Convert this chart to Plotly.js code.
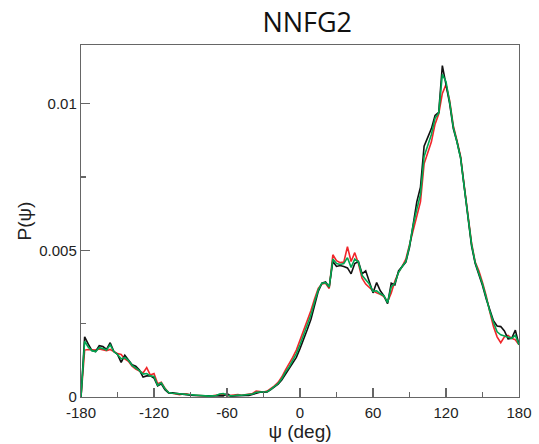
<!DOCTYPE html>
<html>
<head>
<meta charset="utf-8">
<script src="https://cdn.plot.ly/plotly-3.0.1.min.js"></script>
<style>html,body{margin:0;padding:0;background:#fff;}#plot{width:539px;height:444px;}</style>
</head>
<body>
<div id="plot"></div>
<script>
// psi angle bins (deg)
const psi = [-180,-177,-174,-171,-168,-165,-162,-159,-156,-153,-150,-147,-144,-141,-138,-135,-132,-129,-126,-123,-120,-117,-114,-111,-108,-105,-102,-99,-96,-93,-90,-87,-84,-81,-78,-75,-72,-69,-66,-63,-60,-57,-54,-51,-48,-45,-42,-39,-36,-33,-30,-27,-24,-21,-18,-15,-12,-9,-6,-3,0,3,6,9,12,15,18,21,24,27,30,33,36,39,42,45,48,51,54,57,60,63,66,69,72,75,78,81,84,87,90,93,96,99,102,105,108,111,114,117,120,123,126,129,132,135,138,141,144,147,150,153,156,159,162,165,168,171,174,177,180];

const blackP = [0.0,0.00205,0.00180,0.00158,0.00155,0.00175,0.00172,0.00162,0.00185,0.00155,0.00145,0.00118,0.00142,0.00125,0.00110,0.00105,0.00092,0.00068,0.00072,0.00072,0.00065,0.00038,0.00045,0.00025,0.00014,0.00014,0.00012,0.00010,0.00008,0.00007,0.00006,0.00005,0.00005,0.00003,0.00003,0.00003,0.00003,0.00004,0.00005,0.00004,0.00012,0.00003,0.00004,0.00005,0.00005,0.00005,0.00005,0.00008,0.00012,0.00016,0.00016,0.00017,0.00025,0.00033,0.00044,0.00058,0.00078,0.00095,0.00115,0.00135,0.00165,0.00195,0.00230,0.00265,0.00315,0.00360,0.00388,0.00392,0.00375,0.00462,0.00445,0.00448,0.00445,0.00440,0.00420,0.00455,0.00462,0.00420,0.00430,0.00395,0.00355,0.00390,0.00362,0.00345,0.00318,0.00388,0.00382,0.00430,0.00445,0.00460,0.00510,0.00590,0.00665,0.00715,0.00855,0.00885,0.00915,0.00960,0.00970,0.01130,0.01070,0.01000,0.00915,0.00870,0.00815,0.00715,0.00615,0.00515,0.00455,0.00420,0.00380,0.00335,0.00295,0.00260,0.00242,0.00240,0.00225,0.00198,0.00200,0.00228,0.00178];

const redP = [0.0,0.00160,0.00162,0.00160,0.00160,0.00164,0.00162,0.00158,0.00162,0.00155,0.00148,0.00145,0.00130,0.00122,0.00105,0.00095,0.00088,0.00082,0.00100,0.00075,0.00080,0.00045,0.00050,0.00030,0.00015,0.00013,0.00012,0.00008,0.00010,0.00011,0.00007,0.00006,0.00004,0.00003,0.00002,0.00003,0.00004,0.00006,0.00008,0.00010,0.00004,0.00005,0.00006,0.00008,0.00006,0.00008,0.00009,0.00012,0.00020,0.00018,0.00017,0.00020,0.00028,0.00038,0.00050,0.00068,0.00092,0.00112,0.00135,0.00160,0.00192,0.00225,0.00260,0.00295,0.00335,0.00370,0.00385,0.00388,0.00370,0.00485,0.00465,0.00458,0.00460,0.00512,0.00462,0.00492,0.00455,0.00405,0.00385,0.00372,0.00362,0.00355,0.00350,0.00342,0.00325,0.00355,0.00395,0.00425,0.00445,0.00470,0.00520,0.00570,0.00615,0.00665,0.00795,0.00830,0.00870,0.00930,0.00965,0.01035,0.01065,0.01010,0.00925,0.00875,0.00820,0.00720,0.00625,0.00525,0.00460,0.00430,0.00390,0.00345,0.00290,0.00240,0.00205,0.00185,0.00205,0.00210,0.00200,0.00195,0.00178];

const greenP = [0.0,0.00190,0.00170,0.00158,0.00155,0.00168,0.00165,0.00160,0.00178,0.00155,0.00145,0.00130,0.00135,0.00125,0.00108,0.00100,0.00090,0.00078,0.00080,0.00072,0.00070,0.00040,0.00048,0.00028,0.00015,0.00013,0.00012,0.00009,0.00008,0.00007,0.00006,0.00005,0.00004,0.00003,0.00002,0.00003,0.00004,0.00005,0.00010,0.00012,0.00006,0.00004,0.00005,0.00007,0.00006,0.00007,0.00007,0.00010,0.00016,0.00017,0.00017,0.00018,0.00026,0.00035,0.00046,0.00062,0.00085,0.00102,0.00125,0.00148,0.00178,0.00210,0.00245,0.00280,0.00325,0.00365,0.00388,0.00390,0.00375,0.00470,0.00455,0.00452,0.00455,0.00475,0.00442,0.00470,0.00460,0.00415,0.00400,0.00385,0.00360,0.00362,0.00352,0.00345,0.00322,0.00375,0.00388,0.00425,0.00445,0.00462,0.00515,0.00585,0.00640,0.00690,0.00820,0.00855,0.00895,0.00950,0.00968,0.01100,0.01075,0.01005,0.00920,0.00870,0.00815,0.00715,0.00620,0.00520,0.00458,0.00425,0.00385,0.00340,0.00292,0.00255,0.00222,0.00212,0.00208,0.00205,0.00200,0.00210,0.00178];

const xTickVals = [-180,-120,-60,0,60,120,180];
const xTickText = ["-180","-120","-60","0","60","120","180"];
const yTickVals = [0,0.005,0.01];
const yTickText = ["0","0.005","0.01"];

const lw = 1.6;
const traces = [
  {x: psi, y: redP, type: 'scatter', mode: 'lines', line: {color: '#f0262a', width: lw}, hoverinfo: 'skip'},
  {x: psi, y: blackP, type: 'scatter', mode: 'lines', line: {color: '#111111', width: lw}, hoverinfo: 'skip'},
  {x: psi, y: greenP, type: 'scatter', mode: 'lines', line: {color: '#00a651', width: lw}, hoverinfo: 'skip'}
];

const axisCommon = {
  showline: true, mirror: true, linecolor: '#666666', linewidth: 1.2,
  showgrid: false, zeroline: false,
  ticks: 'inside', ticklen: 9, tickwidth: 1.2, tickcolor: '#666666',
  tickfont: {family: 'Liberation Sans, Arial, sans-serif', size: 15, color: '#222'}
};

const layout = {
  width: 539, height: 444,
  margin: {l: 81, r: 20, t: 45, b: 47},
  paper_bgcolor: '#ffffff', plot_bgcolor: '#ffffff',
  showlegend: false,
  title: {text: 'NNFG2', x: 0.57, xref: 'container', xanchor: 'center', y: 0.95, yref: 'container', yanchor: 'middle',
          font: {family: 'Open Sans, Noto Sans, sans-serif', size: 27, color: '#111'}},
  xaxis: Object.assign({}, axisCommon, {
    range: [-180, 180], tickmode: 'array', tickvals: xTickVals, ticktext: xTickText,
    ticklabelstandoff: 2,
    minor: {dtick: 30, tick0: 0, ticks: 'inside', ticklen: 5, tickwidth: 1.2, tickcolor: '#666666', showgrid: false},
    title: {text: 'ψ (deg)', standoff: 1, font: {family: 'Liberation Sans, Arial, sans-serif', size: 19, color: '#222'}}
  }),
  yaxis: Object.assign({}, axisCommon, {
    range: [0, 0.012], tickmode: 'array', tickvals: yTickVals, ticktext: yTickText,
    minor: {dtick: 0.0025, tick0: 0, ticks: 'inside', ticklen: 5, tickwidth: 1.2, tickcolor: '#666666', showgrid: false},
    title: {text: 'P(ψ)', standoff: 2, font: {family: 'Liberation Sans, Arial, sans-serif', size: 19, color: '#222'}}
  })
};

Plotly.newPlot('plot', traces, layout, {displayModeBar: false, staticPlot: true});
</script>
</body>
</html>
